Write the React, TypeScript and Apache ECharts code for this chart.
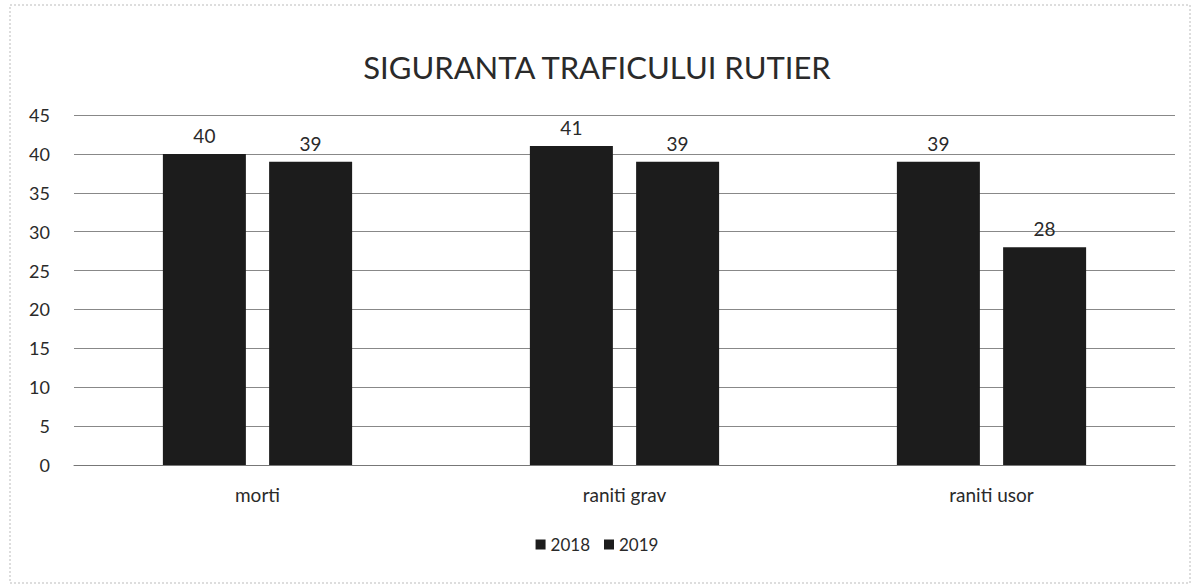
import React, { useEffect, useRef } from "react";
import * as echarts from "echarts";

const categories = ["morti", "raniti grav", "raniti usor"];
const values2018 = [40, 41, 39];
const values2019 = [39, 39, 28];
const seriesNames = ["2018", "2019"];

export default function App() {
  const ref = useRef<HTMLDivElement>(null);
  useEffect(() => {
    document.body.style.margin = "0";
    const chart = echarts.init(ref.current!, null, { renderer: "svg" });
    const font = "Lato, 'Open Sans', sans-serif";
    chart.setOption({
      animation: false,
      backgroundColor: "#ffffff",
      textStyle: { fontFamily: font },
      title: {
        text: "SIGURANTA TRAFICULUI RUTIER",
        left: "center",
        top: 46,
        textStyle: { fontFamily: font, fontSize: 31, fontWeight: "normal", color: "#2a2a2a" },
      },
      legend: {
        data: seriesNames,
        bottom: 26,
        left: "center",
        itemWidth: 10,
        itemHeight: 10,
        itemGap: 14,
        icon: "rect",
        textStyle: { fontFamily: font, fontSize: 17, color: "#2a2a2a" },
      },
      graphic: [
        {
          type: "rect",
          shape: { x: 10, y: 5, width: 1180, height: 578 },
          style: { fill: "none", stroke: "#bbb", lineWidth: 1, lineDash: [2, 2] },
          silent: true,
        },
      ],
      grid: { left: 74, right: 19, top: 115, bottom: 119 },
      xAxis: {
        type: "category",
        data: categories,
        axisLine: { show: true, lineStyle: { color: "#777" } },
        axisTick: { show: false },
        axisLabel: { fontFamily: font, fontSize: 19, color: "#2a2a2a", margin: 20 },
      },
      yAxis: {
        type: "value",
        min: 0,
        max: 45,
        interval: 5,
        axisLine: { show: false },
        axisTick: { show: false },
        axisLabel: { fontFamily: font, fontSize: 18, color: "#2a2a2a", margin: 24 },
        splitLine: { lineStyle: { color: "#888", width: 1 } },
      },
      series: [
        {
          name: seriesNames[0],
          type: "bar",
          data: values2018,
          barWidth: 83,
          barGap: "28%",
          itemStyle: { color: "#1c1c1c" },
          label: { show: true, position: "top", distance: 9, fontFamily: font, fontSize: 19, color: "#2a2a2a" },
        },
        {
          name: seriesNames[1],
          type: "bar",
          data: values2019,
          barWidth: 83,
          itemStyle: { color: "#1c1c1c" },
          label: { show: true, position: "top", distance: 9, fontFamily: font, fontSize: 19, color: "#2a2a2a" },
        },
      ],
    });
    return () => chart.dispose();
  }, []);
  return <div ref={ref} style={{ width: 1194, height: 584 }} />;
}
